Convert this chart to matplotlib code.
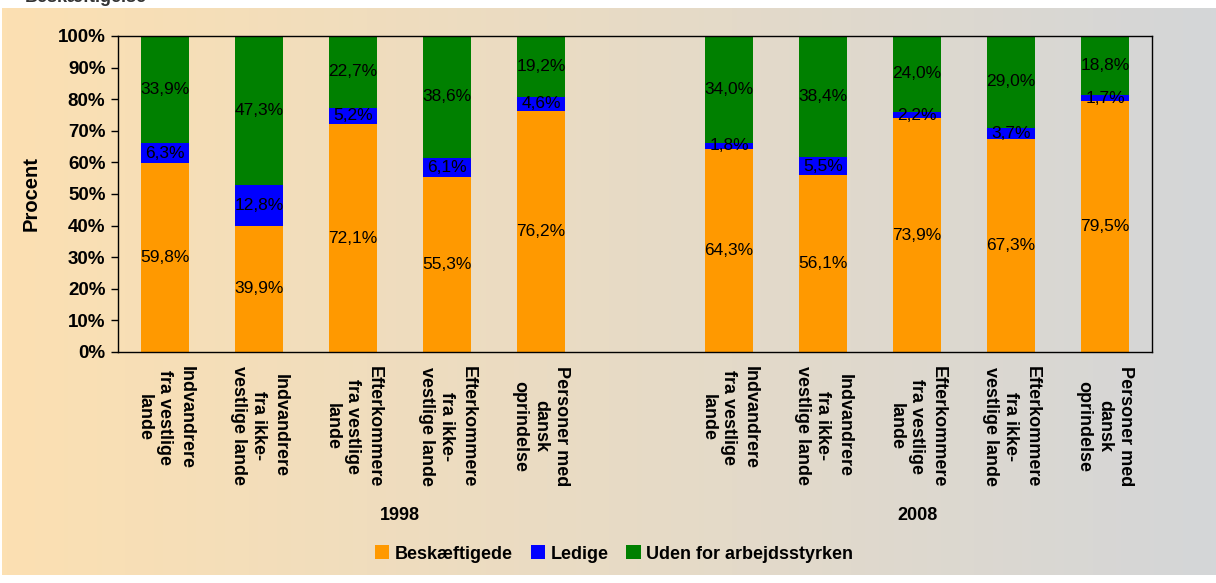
import numpy as np
import matplotlib.pyplot as plt
from matplotlib.patches import Patch

plt.rcParams['font.family'] = ['Liberation Sans', 'DejaVu Sans']

# Data (percent)
categories = [
    'Indvandrere\nfra vestlige\nlande',
    'Indvandrere\nfra ikke-\nvestlige lande',
    'Efterkommere\nfra vestlige\nlande',
    'Efterkommere\nfra ikke-\nvestlige lande',
    'Personer med\ndansk\noprindelse',
]
years = ['1998', '2008']
beskaeftigede = [59.8, 39.9, 72.1, 55.3, 76.2, 64.3, 56.1, 73.9, 67.3, 79.5]
ledige = [6.3, 12.8, 5.2, 6.1, 4.6, 1.8, 5.5, 2.2, 3.7, 1.7]
uden = [33.9, 47.3, 22.7, 38.6, 19.2, 34.0, 38.4, 24.0, 29.0, 18.8]
series_names = ['Beskæftigede', 'Ledige', 'Uden for arbejdsstyrken']
colors = ['#FF9900', '#0000FF', '#008000']

fig = plt.figure(figsize=(12.16, 5.83), dpi=100)

# gradient background (orange-beige -> grey)
bg = fig.add_axes([2 / 1216, 8 / 583, 1 - 2 / 1216, 1 - 16 / 583], zorder=-10)
left_c = np.array([252, 224, 178]) / 255
right_c = np.array([212, 214, 216]) / 255
t = np.linspace(0, 1, 256)[None, :, None]
grad = left_c * (1 - t) + right_c * t
bg.imshow(grad, aspect='auto', extent=[0, 1, 0, 1])
bg.axis('off')

# heading that is cut off at the very top of the picture
fig.text(25 / 1216, 1 - 2 / 583, 'Beskæftigelse', fontsize=13, fontweight='bold',
         va='baseline', ha='left', color='#333333')

ax = fig.add_axes([118 / 1216, 1 - 352 / 583, 1034 / 1216, 316 / 583])
ax.set_facecolor('none')

# positions: 5 bars, one empty slot, 5 bars
x = [0, 1, 2, 3, 4, 6, 7, 8, 9, 10]
width = 0.51

bottom = np.zeros(len(x))
for vals, col in zip([beskaeftigede, ledige, uden], colors):
    vals = np.array(vals)
    ax.bar(x, vals, width, bottom=bottom, color=col, linewidth=0)
    for xi, b, v in zip(x, bottom, vals):
        ax.text(xi, b + v / 2, f'{v:.1f}%'.replace('.', ','), ha='center', va='center',
                fontsize=12.5, color='black')
    bottom += vals

ax.set_xlim(-0.5, 10.5)
ax.set_ylim(0, 100)
ax.set_yticks(range(0, 101, 10))
ax.set_yticklabels([f'{v}%' for v in range(0, 101, 10)], fontsize=13.5, fontweight='bold')
ax.tick_params(axis='y', direction='out', length=5, width=1, pad=4)
ax.set_xticks(x)
ax.set_xticklabels(categories * 2, rotation=270, ha='center', va='top',
                   multialignment='center', fontsize=13, fontweight='bold',
                   linespacing=1.3)
ax.tick_params(axis='x', length=0, pad=10)
for s in ax.spines.values():
    s.set_color('black')
    s.set_linewidth(1)

ax.set_ylabel('Procent', fontsize=14.5, fontweight='bold', labelpad=12)

# year group labels
trans = ax.get_xaxis_transform()
ax.text(2.5, -163 / 316, years[0], transform=trans, ha='center', va='center',
        fontsize=13, fontweight='bold')
ax.text(8, -163 / 316, years[1], transform=trans, ha='center', va='center',
        fontsize=13, fontweight='bold')

handles = [Patch(facecolor=c, edgecolor='none') for c in colors]
fig.legend(handles, series_names, loc='center', bbox_to_anchor=(614 / 1216, 1 - 554 / 583),
           ncol=3, frameon=False, prop={'size': 13, 'weight': 'bold'},
           handlelength=0.8, handleheight=0.8, handletextpad=0.3, columnspacing=1.0)

fig.savefig('out.png', dpi=100)
